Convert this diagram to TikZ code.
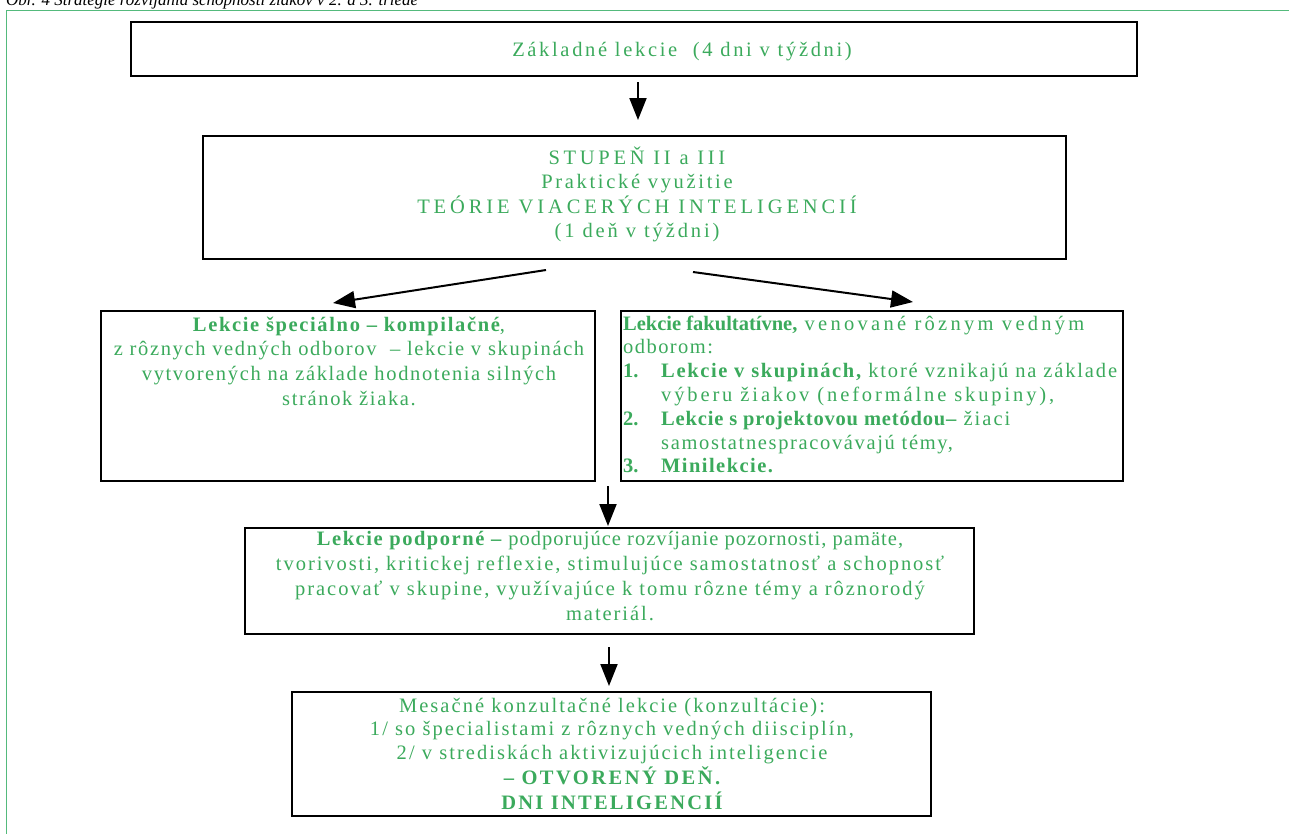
\documentclass[tikz,border=0pt]{standalone}
\usepackage{fontspec}
\setmainfont{Liberation Serif}
\newfontfamily\capfont{Liberation Serif}
\usetikzlibrary{arrows.meta,calc}
\definecolor{tgreen}{RGB}{59,170,92}
\definecolor{fgreen}{RGB}{84,186,124}
\newcommand\tb[2]{\begin{tabular}[t]{@{}#1@{}}#2\end{tabular}}
\newcommand\LS[1]{\fontspec{Liberation Serif}[LetterSpace=#1]}
\newcommand\B[2][5]{{\LS{#1}\bfseries #2}}
\begin{document}
\begin{tikzpicture}[x=1pt,y=-1pt,
  box/.style={draw=black,line width=1.5pt,inner sep=0pt,outer sep=0pt,anchor=north west},
  txt/.style={text=tgreen,inner sep=0pt,anchor=base},
  arr/.style={line width=2pt,-{Triangle[length=22pt,width=17pt]}}]
\useasboundingbox (0,0) rectangle (1289,833);
\fill[white] (0,0) rectangle (1289,833);
\node[anchor=base west,inner sep=0pt,font=\capfont\fontsize{17}{20}\selectfont\itshape] (cap) at (6,5) {Obr. 4 Stratégie rozvíjania schopností žiakov v 2. a 3. triede};
\draw[fgreen,line width=1.3pt] (6.5,850) -- (6.5,10.5) -- (1300,10.5);
% boxes
\node[box,minimum width=1006pt,minimum height=54pt] (b1) at (131,22) {};
\node[box,minimum width=863pt,minimum height=123pt] (b2) at (203,136) {};
\node[box,minimum width=494pt,minimum height=170pt] (b3) at (101,311) {};
\node[box,minimum width=502pt,minimum height=170pt] (b4) at (621,311) {};
\node[box,minimum width=729pt,minimum height=106pt] (b5) at (245,528) {};
\node[box,minimum width=639pt,minimum height=124pt] (b6) at (292,692) {};
% texts
\node[txt,font=\fontsize{20.5}{24.5}\LS{13}] (t1) at (682,56) {Základné lekcie\ \ (4 dni v týždni)};
\node[txt,font=\fontsize{20.5}{24.5}\LS{13}] (t2) at (637,164) {\tb{c}{\LS{18}STUPEŇ II a III\\\LS{13}Praktické využitie\\\LS{19}TEÓRIE VIACERÝCH INTELIGENCIÍ\\\LS{14}(1 deň v týždni)}};
\node[txt,font=\fontsize{20.5}{24.8}\LS{8}] (t3) at (349,331) {\tb{c}{\B[8]{Lekcie špeciálno – kompilačné},\\z rôznych vedných odborov\ \ – lekcie v skupinách\\vytvorených na základe hodnotenia silných\\stránok žiaka.}};
\node[txt,anchor=base west,font=\fontsize{20.5}{23.8}\LS{10}] (t4) at (623,330) {\tb{l}{\B[0]{Lekcie fakultatívne,} \LS{16}venované rôznym vedným\\\LS{7}odborom:\\\makebox[38pt][l]{\B[0]{1.}}\B[8]{Lekcie v skupinách,} \LS{9}ktoré vznikajú na základe\\\hspace*{38pt}\LS{14}výberu žiakov (neformálne skupiny),\\\makebox[38pt][l]{\B[0]{2.}}\B[4]{Lekcie s projektovou metódou–} žiaci\\\hspace*{38pt}\LS{8}samostatnespracovávajú témy,\\\makebox[38pt][l]{\B[0]{3.}}\B[7]{Minilekcie.}}};
\node[txt,font=\fontsize{20.5}{25}\LS{9.5}] (t5) at (610,545) {\tb{c}{\B[7.5]{Lekcie podporné –} {\LS{5}podporujúce rozvíjanie pozornosti, pamäte,}\\tvorivosti, kritickej reflexie, stimulujúce samostatnosť a schopnosť\\pracovať v skupine, využívajúce k tomu rôzne témy a rôznorodý\\materiál.}};
\node[txt,font=\fontsize{20.5}{23.8}\LS{10}] (t6) at (612,712) {\tb{c}{Mesačné konzultačné lekcie (konzultácie):\\1/ so špecialistami z rôznych vedných diisciplín,\\2/ v strediskách aktivizujúcich inteligencie\\\B[12]{– OTVORENÝ DEŇ.}\\\B[11]{DNI INTELIGENCIÍ}}};
% arrows
\coordinate (gap) at ($(b3.south east)!0.5!(b4.south west)$);
\draw[arr] ([xshift=4pt,yshift=-6pt]b1.south) -- ([xshift=3.5pt,yshift=16pt]b2.north);
\draw[arr] ([xshift=-88.5pt,yshift=-11pt]b2.south) -- ([xshift=-15pt,yshift=8pt]b3.north);
\draw[arr] ([xshift=58.5pt,yshift=-13pt]b2.south) -- ([xshift=41pt,yshift=9pt]b4.north);
\draw[arr] ([yshift=-5pt]gap) -- ([xshift=-1.5pt,yshift=2pt]b5.north);
\draw[arr] ([xshift=-0.5pt,yshift=-13pt]b5.south) -- ([xshift=-2.5pt,yshift=6pt]b6.north);
\end{tikzpicture}
\end{document}
